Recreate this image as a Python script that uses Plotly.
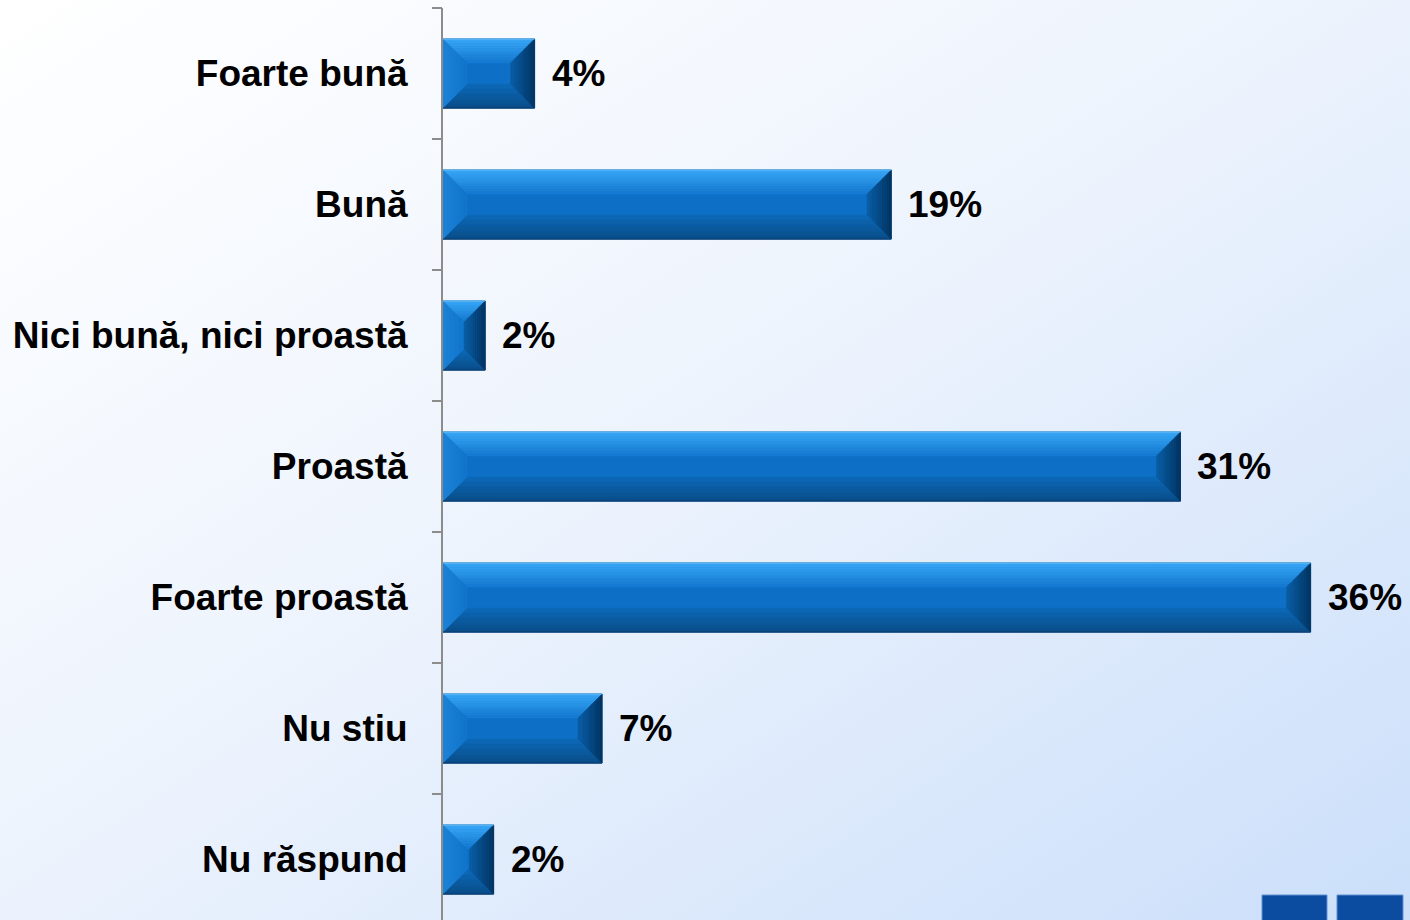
import urllib.parse
import plotly.graph_objects as go

categories = ["Foarte bună", "Bună", "Nici bună, nici proastă", "Proastă",
              "Foarte proastă", "Nu stiu", "Nu răspund"]
values = [3.8, 18.6, 1.75, 30.6, 36.0, 6.6, 2.1]
labels = ["4%", "19%", "2%", "31%", "36%", "7%", "2%"]

W, H = 1410, 920
ML, MR, MT, MB = 443, 3, 8, 0
PW, PH = W - ML - MR, H - MT - MB
XMAX = 40.0
PX_X = PW / XMAX
CAT_PX = 131.0
Y_TOP = -0.5
Y_BOT = Y_TOP + PH / CAT_PX
BAR_W = 0.527
BEVEL = 24.0

FONT = "Liberation Sans, Arial, sans-serif"
FS = 37

fig = go.Figure()
fig.add_trace(go.Bar(
    y=list(range(len(categories))), x=values, orientation="h", width=BAR_W,
    marker=dict(color="#0d6fc6", line=dict(color="#0a4a85", width=1)),
    hoverinfo="skip", showlegend=False,
))


def hx(c):
    return tuple(int(c[i:i + 2], 16) for i in (1, 3, 5))


def lerp(c0, c1, t):
    a, b = hx(c0), hx(c1)
    return "#%02x%02x%02x" % tuple(round(a[i] + (b[i] - a[i]) * t) for i in range(3))


# (outer colour, inner colour) per face
TOP = ("#3aa8f8", "#1479cf")
BOT = ("#0a4c86", "#0c6ab8")
RIGHT = ("#02335f", "#0a5ea6")
LEFT = ("#1d84d8", "#1174cb")

shapes = []


def poly(pts, color):
    d = "M " + " L ".join(f"{x:.5f},{y:.5f}" for x, y in pts) + " Z"
    shapes.append(dict(type="path", path=d, xref="x", yref="y",
                       fillcolor=color, line=dict(width=0.6, color=color), layer="above"))


nb = 10
for i, v in enumerate(values):
    wpx = v * PX_X
    b = min(BEVEL, wpx / 2)
    bx, by = b / PX_X, b / CAT_PX
    top, bot = i - BAR_W / 2, i + BAR_W / 2
    for k in range(nb):
        f0, f1 = k / nb, (k + 1) / nb
        t = (k + 0.5) / nb
        x0, x1 = bx * f0, bx * f1
        y0, y1 = by * f0, by * f1
        poly([(x0, top + y0), (v - x0, top + y0), (v - x1, top + y1), (x1, top + y1)], lerp(*TOP, t))
        poly([(x0, bot - y0), (v - x0, bot - y0), (v - x1, bot - y1), (x1, bot - y1)], lerp(*BOT, t))
        poly([(x0, top + y0), (x1, top + y1), (x1, bot - y1), (x0, bot - y0)], lerp(*LEFT, t))
        poly([(v - x0, top + y0), (v - x1, top + y1), (v - x1, bot - y1), (v - x0, bot - y0)], lerp(*RIGHT, t))
    shapes.append(dict(type="line", xref="x", yref="y", x0=0, x1=v, y0=top, y1=top,
                       line=dict(color="#6fbdf2", width=1.2), layer="above"))
    shapes.append(dict(type="line", xref="x", yref="y", x0=0, x1=v, y0=bot, y1=bot,
                       line=dict(color="#0a3f70", width=1.2), layer="above"))

# slide decoration squares (screen px)
for x0s, x1s in [(1262, 1327), (1337, 1403)]:
    shapes.append(dict(type="rect", xref="paper", yref="paper",
                       x0=(x0s - ML) / PW, x1=(x1s - ML) / PW,
                       y0=-0.05, y1=(H - 895 - MB) / PH,
                       fillcolor="#0c4ca0", line=dict(color="#5f8fd0", width=1), layer="above"))

annotations = [dict(x=v, y=i, xref="x", yref="y", text=t, showarrow=False,
                    xanchor="left", yanchor="middle", xshift=15,
                    font=dict(family=FONT, size=FS, color="black", weight="bold"))
               for i, (v, t) in enumerate(zip(values, labels))]

svg = ("<svg xmlns='http://www.w3.org/2000/svg' width='1410' height='920' preserveAspectRatio='none'>"
       "<defs><linearGradient id='g' x1='0' y1='0' x2='1' y2='1'>"
       "<stop offset='0' stop-color='#ffffff'/><stop offset='0.45' stop-color='#eef4fd'/>"
       "<stop offset='1' stop-color='#cbdffa'/></linearGradient></defs>"
       "<rect width='1410' height='920' fill='url(#g)'/></svg>")
src = "data:image/svg+xml;charset=utf-8," + urllib.parse.quote(svg)

fig.update_layout(
    width=W, height=H,
    margin=dict(l=ML, r=MR, t=MT, b=MB, pad=0),
    paper_bgcolor="white", plot_bgcolor="rgba(0,0,0,0)",
    shapes=shapes, annotations=annotations,
    images=[dict(source=src, xref="paper", yref="paper",
                 x=-ML / PW, y=1 + MT / PH, sizex=W / PW, sizey=H / PH,
                 xanchor="left", yanchor="top", sizing="stretch", layer="below")],
    xaxis=dict(range=[0, XMAX], visible=False, fixedrange=True),
    yaxis=dict(range=[Y_BOT, Y_TOP], tickmode="array",
               tickvals=list(range(len(categories))), ticktext=categories,
               showgrid=False, zeroline=False, showline=True,
               linecolor="#8c8c8c", linewidth=2, ticks="",
               ticklabelstandoff=26,
               tickfont=dict(family=FONT, size=FS, color="black", weight="bold")),
    yaxis2=dict(overlaying="y", range=[Y_BOT, Y_TOP], tickmode="array",
                tickvals=[k - 0.5 for k in range(len(categories) + 1)],
                ticktext=[""] * (len(categories) + 1),
                ticks="outside", ticklen=10, tickwidth=2, tickcolor="#8c8c8c",
                showgrid=False, zeroline=False, showline=False, side="left"),
)
fig.add_trace(go.Scatter(x=[None], y=[None], yaxis="y2", showlegend=False, hoverinfo="skip"))

fig.write_html("out.html", config={"displayModeBar": False},
               post_script="document.body.style.margin='0';document.body.style.overflow='hidden';")
